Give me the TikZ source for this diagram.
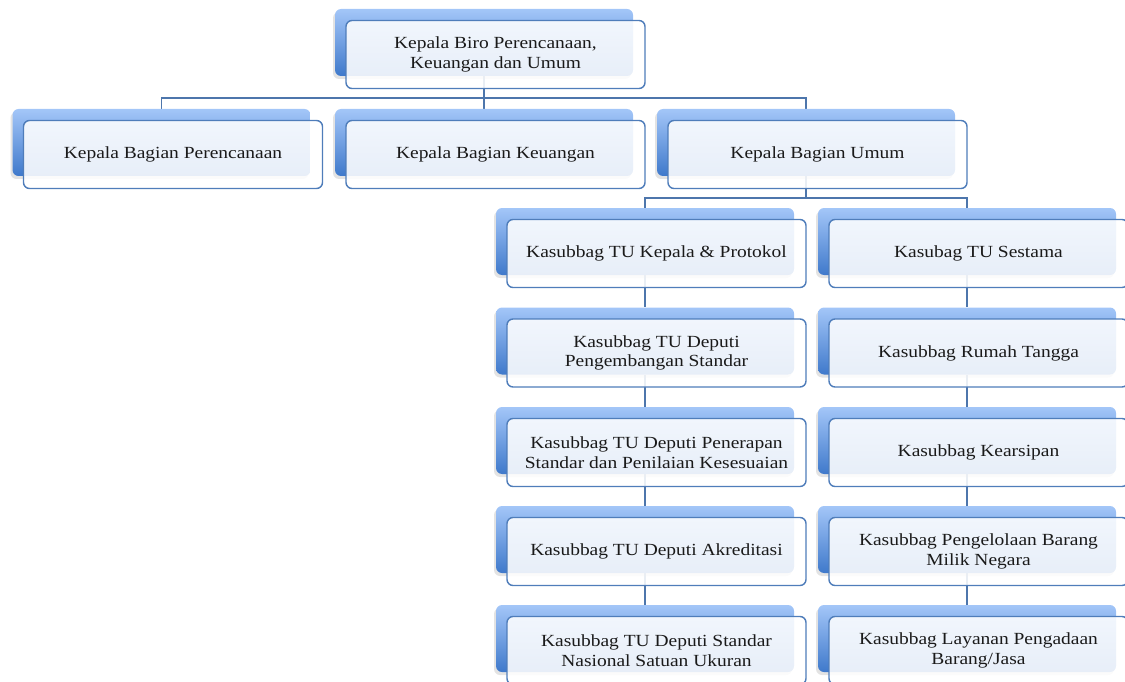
\documentclass[tikz,border=0pt]{standalone}
\usepackage{fontspec}
\setmainfont[FakeStretch=1.145]{Liberation Serif}
\usetikzlibrary{shadows,calc}
\pgfdeclarelayer{bg}
\pgfsetlayers{bg,main}
\definecolor{lineblue}{HTML}{4D76AC}
\definecolor{borderblue}{HTML}{4F7DBA}
\definecolor{boxtop}{HTML}{A3C6F8}
\definecolor{boxbot}{HTML}{3F79CB}
\definecolor{txt}{HTML}{1A1A1A}
\tikzset{
  backbox/.style={rectangle, rounded corners=6pt, minimum width=298pt, minimum height=67pt,
    top color=boxtop, bottom color=boxbot, draw=none,
    drop shadow={shadow xshift=-2pt, shadow yshift=-3pt, opacity=0.22}},
  frontbox/.style={rectangle, rounded corners=6pt, minimum width=299pt, minimum height=68pt,
    draw=borderblue, line width=1.4pt, fill=white, fill opacity=0.88, text opacity=1,
    text=txt, align=center, font=\fontsize{17}{19.5}\selectfont},
  conn/.style={draw=lineblue, line width=1.9pt}
}
\newcommand{\orgbox}[4]{%
  \node[backbox] (#1) at (#2) {};
  \node[frontbox] (f#1) at ($(#1)+(11.5,12)$) {#3};
}
\begin{document}
\begin{tikzpicture}[x=1pt,y=-1pt]
\useasboundingbox (0,0) rectangle (1125,682);
% top
\orgbox{bt}{484,42.5}{Kepala Biro Perencanaan,\\Keuangan dan Umum}{}
% row 2
\orgbox{ba}{161.5,142.5}{Kepala Bagian Perencanaan}{}
\orgbox{bk}{484,142.5}{Kepala Bagian Keuangan}{}
\orgbox{bu}{806,142.5}{Kepala Bagian Umum}{}
% left column
\orgbox{la}{645,241.5}{Kasubbag TU Kepala \& Protokol}{}
\orgbox{lb}{645,341}{Kasubbag TU Deputi\\Pengembangan Standar}{}
\orgbox{lc}{645,440.5}{Kasubbag TU Deputi Penerapan\\Standar dan Penilaian Kesesuaian}{}
\orgbox{ld}{645,539.5}{Kasubbag TU Deputi Akreditasi}{}
\orgbox{le}{645,638.5}{Kasubbag TU Deputi Standar\\Nasional Satuan Ukuran}{}
% right column
\orgbox{ra}{967,241.5}{Kasubag TU Sestama}{}
\orgbox{rb}{967,341}{Kasubbag Rumah Tangga}{}
\orgbox{rc}{967,440.5}{Kasubbag Kearsipan}{}
\orgbox{rd}{967,539.5}{Kasubbag Pengelolaan Barang\\Milik Negara}{}
\orgbox{re}{967,638.5}{Kasubbag Layanan Pengadaan\\Barang/Jasa}{}
\begin{pgfonlayer}{bg}
  \coordinate (j1) at ($(bt.south)+(0,22)$);
  \coordinate (j2) at ($(bu.south)+(0,22)$);
  \draw[conn] (bt.south) -- (bk.north);
  \draw[conn] (ba.north) |- (j1) -| (bu.north);
  \draw[conn] (bu.south) -- (j2);
  \draw[conn] (la.north) |- (j2) -| (ra.north);
  \draw[conn] (la.south) -- (lb.north);
  \draw[conn] (lb.south) -- (lc.north);
  \draw[conn] (lc.south) -- (ld.north);
  \draw[conn] (ld.south) -- (le.north);
  \draw[conn] (ra.south) -- (rb.north);
  \draw[conn] (rb.south) -- (rc.north);
  \draw[conn] (rc.south) -- (rd.north);
  \draw[conn] (rd.south) -- (re.north);
\end{pgfonlayer}
\end{tikzpicture}
\end{document}
